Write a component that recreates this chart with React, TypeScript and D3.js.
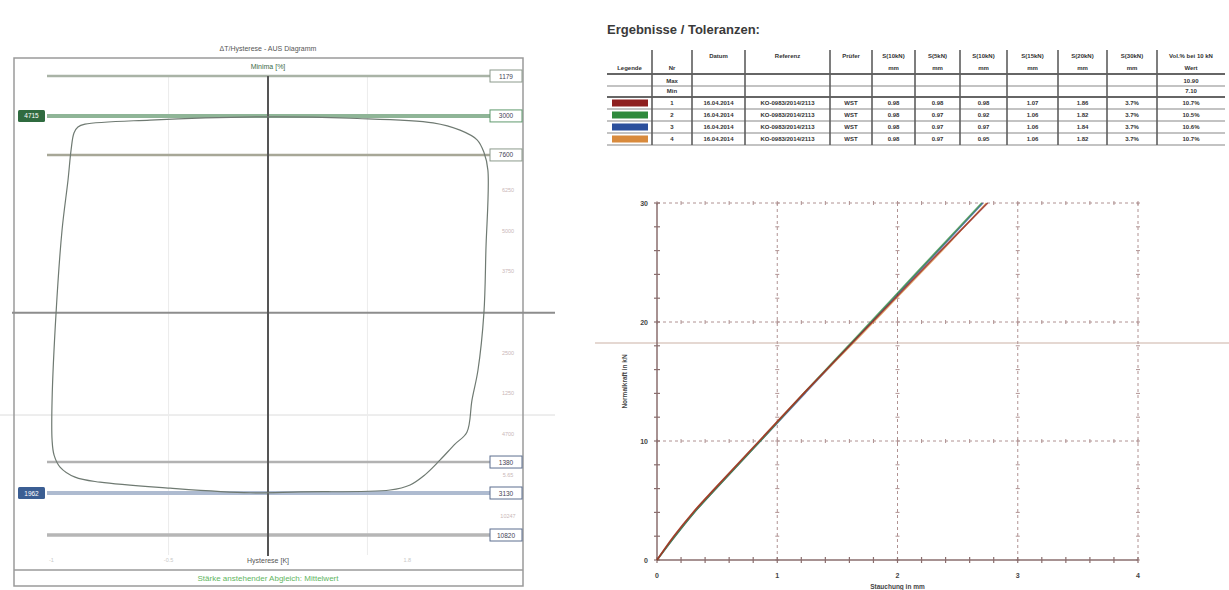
import React from 'react';
import * as d3 from 'd3';

// ---------- left panel: hysteresis loop ----------
const loopX = [-82.8, -53.4, 0, 37.1, 74.7, 86.9, 94.6, 97.7, 99.5, 98.6, 97.7, 95.0, 92.3, 90.0, 84.6, 77.8, 71.0, 64.3, 55.2, 14.5, -8.1, -44.3, -76.0, -87.3, -94.1, -96.8, -97.7, -97.7, -95.9, -93.2, -90.5, -89.1, -87.8, -86.0];
const loopY = [89.5, 90.4, 91.1, 90.8, 89.8, 88.2, 86.1, 83.4, 79.5, 62.1, 48.4, 35.9, 29.4, 22.4, 19.8, 16.3, 13.1, 10.9, 9.8, 9.4, 9.2, 10.2, 11.5, 12.6, 14.8, 17.4, 20.7, 29.4, 48.4, 66.4, 77.3, 83.9, 87.6, 88.9];

const levelValues = [100, 91.3, 82.8, 15.9, 9.15, 0];
const levelLabels = ['1179', '3000', '7600', '1380', '3130', '10820'];
const midLevel = 48.4;
const sideValues = [91.3, 9.15];
const sideLabels = ['4715', '1962'];
const faintValues = [75.2, 66.2, 57.5, 39.7, 30.9, 22.0, 13.1, 4.1];
const faintLabels = ['6250', '5000', '3750', '2500', '1250', '4700', '5.65', '10247'];
const gridX = [-45, 45];
const bottomTickX = [-98, -45, 63];
const bottomTickLabels = ['-1', '-0.5', '1.8'];

// ---------- right panel: table ----------
const headTop = ['', '', 'Datum', 'Referenz', 'Prüfer', 'S(10kN)', 'S(5kN)', 'S(10kN)', 'S(15kN)', 'S(20kN)', 'S(30kN)', 'Vol.% bei 10 kN'];
const headBottom = ['Legende', 'Nr', '', '', '', 'mm', 'mm', 'mm', 'mm', 'mm', 'mm', 'Wert'];
const limitNames = ['Max', 'Min'];
const limitValues = ['10.90', '7.10'];
const runNr = ['1', '2', '3', '4'];
const runDate = ['16.04.2014', '16.04.2014', '16.04.2014', '16.04.2014'];
const runRef = ['KO-0983/2014/2113', 'KO-0983/2014/2113', 'KO-0983/2014/2113', 'KO-0983/2014/2113'];
const runTester = ['WST', 'WST', 'WST', 'WST'];
const runValues = [
  ['0.98', '0.98', '0.98', '1.07', '1.86', '3.7%', '10.7%'],
  ['0.98', '0.97', '0.92', '1.06', '1.82', '3.7%', '10.5%'],
  ['0.98', '0.97', '0.97', '1.06', '1.84', '3.7%', '10.6%'],
  ['0.98', '0.97', '0.95', '1.06', '1.82', '3.7%', '10.7%'],
];

// ---------- right panel: force / stroke ----------
const force = [0, 2, 4, 6, 10, 14, 18, 22, 26, 30];
const strokeRed = [0, 0.14, 0.30, 0.48, 0.85, 1.22, 1.60, 1.98, 2.36, 2.75];
const strokeGreen = [0, 0.15, 0.31, 0.49, 0.86, 1.22, 1.59, 1.96, 2.33, 2.70];
const strokeBlue = [0, 0.15, 0.31, 0.49, 0.86, 1.23, 1.60, 1.97, 2.34, 2.71];
const strokeOrange = [0, 0.14, 0.30, 0.48, 0.85, 1.22, 1.61, 1.99, 2.37, 2.74];
const xTicks = [0, 1, 2, 3, 4];
const yTicks = [0, 10, 20, 30];

const runColors = ['#8e1f1f', '#2f8a3c', '#2b4f9c', '#d88a3c'];
const font = '"Liberation Sans", Arial, sans-serif';

function LeftPanel() {
  const x = d3.scaleLinear().domain([-100, 100]).range([47, 489]);
  const y = d3.scaleLinear().domain([0, 100]).range([535, 76]);
  const loop = d3.line<number>()
    .x((d, i) => x(loopX[i]))
    .y((d, i) => y(loopY[i]))
    .curve(d3.curveCatmullRomClosed);
  const lvlColors = ['#a9b3a6', '#8fb597', '#a7a797', '#b2b2b2', '#aebbd0', '#b6b6b6'];
  const lvlWidths = [2.5, 4, 2.5, 2.5, 4, 3.5];
  const boxStroke = ['#8c9a8c', '#5f9a6d', '#8c9a8c', '#5d6f8f', '#5d6f8f', '#5d6f8f'];
  const sideFill = ['#2f6b3f', '#3b5e93'];
  return (
    <g fontFamily={font}>
      <line x1={0} x2={555} y1={415} y2={415} stroke="#dcdcdc" strokeWidth={1} />
      <rect x={14} y={58} width={509} height={528} fill="none" stroke="#9a9a9a" strokeWidth={1.5} />
      <line x1={14} x2={523} y1={570} y2={570} stroke="#9a9a9a" strokeWidth={1.5} />
      <text x={268} y={51} textAnchor="middle" fontSize={7} fill="#555">ΔT/Hysterese - AUS Diagramm</text>
      {gridX.map(v => (
        <line key={v} x1={x(v)} x2={x(v)} y1={y(100)} y2={555} stroke="#ececec" strokeWidth={1} />
      ))}
      {levelValues.map((v, i) => (
        <line key={i} x1={47} x2={492} y1={y(v)} y2={y(v)} stroke={lvlColors[i]} strokeWidth={lvlWidths[i]} />
      ))}
      <line x1={12} x2={555} y1={y(midLevel)} y2={y(midLevel)} stroke="#8d8d8d" strokeWidth={2} />
      <line x1={x(0)} x2={x(0)} y1={y(100)} y2={556} stroke="#555" strokeWidth={2} />
      <path d={loop(loopX) || ''} fill="none" stroke="#6f7a72" strokeWidth={1.2} />
      {levelValues.map((v, i) => (
        <g key={i}>
          <rect x={490} y={y(v) - 6} width={32} height={12} fill="#fff" stroke={boxStroke[i]} strokeWidth={1} />
          <text x={506} y={y(v) + 2.5} textAnchor="middle" fontSize={6.5} fill="#445">{levelLabels[i]}</text>
        </g>
      ))}
      {sideValues.map((v, i) => (
        <g key={i}>
          <rect x={18} y={y(v) - 6} width={27} height={12} rx={1.5} fill={sideFill[i]} />
          <text x={31.5} y={y(v) + 2.5} textAnchor="middle" fontSize={6.5} fill="#fff">{sideLabels[i]}</text>
        </g>
      ))}
      {faintValues.map((v, i) => (
        <text key={i} x={508} y={y(v) + 2} textAnchor="middle" fontSize={5.5} fill="#c9b7b7">{faintLabels[i]}</text>
      ))}
      {bottomTickX.map((v, i) => (
        <text key={i} x={x(v)} y={562} textAnchor="middle" fontSize={5.5} fill="#c8c8c8">{bottomTickLabels[i]}</text>
      ))}
      <text x={268} y={69} textAnchor="middle" fontSize={7} fill="#3c6b48">Minima [%]</text>
      <text x={268} y={563} textAnchor="middle" fontSize={7} fill="#555">Hysterese [K]</text>
      <text x={268} y={581} textAnchor="middle" fontSize={8} fill="#5fb65f">Stärke anstehender Abgleich: Mittelwert</text>
    </g>
  );
}

function ResultTable() {
  const cols = [607, 652, 692, 745, 830, 872, 915, 960, 1007, 1058, 1107, 1157, 1225];
  const rowLines = [74, 86, 97, 109, 121, 133, 145];
  const thick = [74, 97];
  const cx = (i: number) => (cols[i] + cols[i + 1]) / 2;
  const runRowMid = [103, 115, 127, 139];
  return (
    <g fontFamily={font} fontSize={6} fill="#333" fontWeight="bold">
      <text x={607} y={34} fontSize={13} fontWeight="900" fill="#3a3a3a">Ergebnisse / Toleranzen:</text>
      {rowLines.map(r => (
        <line key={r} x1={607} x2={1225} y1={r} y2={r} stroke={thick.includes(r) ? '#666' : '#888'} strokeWidth={thick.includes(r) ? 2 : 1.2} />
      ))}
      {cols.slice(1, -1).map(c => (
        <line key={c} x1={c} x2={c} y1={50} y2={145} stroke="#5e5e5e" strokeWidth={1.6} />
      ))}
      {headTop.map((t, i) => (
        <text key={'a' + i} x={cx(i)} y={58} textAnchor="middle">{t}</text>
      ))}
      {headBottom.map((t, i) => (
        <text key={'b' + i} x={cx(i)} y={70} textAnchor="middle">{t}</text>
      ))}
      {limitNames.map((t, i) => (
        <g key={t}>
          <text x={cx(1)} y={83 + i * 10} textAnchor="middle">{t}</text>
          <text x={cx(11)} y={83 + i * 10} textAnchor="middle">{limitValues[i]}</text>
        </g>
      ))}
      {runNr.map((n, r) => (
        <g key={n}>
          <rect x={612} y={runRowMid[r] - 3.5} width={36} height={7} fill={runColors[r]} />
          <text x={cx(1)} y={runRowMid[r] + 2} textAnchor="middle">{n}</text>
          <text x={cx(2)} y={runRowMid[r] + 2} textAnchor="middle">{runDate[r]}</text>
          <text x={cx(3)} y={runRowMid[r] + 2} textAnchor="middle">{runRef[r]}</text>
          <text x={cx(4)} y={runRowMid[r] + 2} textAnchor="middle">{runTester[r]}</text>
          {runValues[r].map((v, j) => (
            <text key={j} x={cx(5 + j)} y={runRowMid[r] + 2} textAnchor="middle">{v}</text>
          ))}
        </g>
      ))}
    </g>
  );
}

function ForceChart() {
  const x = d3.scaleLinear().domain([0, 4]).range([657, 1138]);
  const y = d3.scaleLinear().domain([0, 30]).range([560, 203]);
  const series = [strokeBlue, strokeGreen, strokeOrange, strokeRed];
  const seriesColors = [runColors[2], runColors[1], runColors[3], runColors[0]];
  const makeLine = (s: number[]) => d3.line<number>()
    .x((d, i) => x(s[i]))
    .y(d => y(d))
    .curve(d3.curveCatmullRom)(force) || '';
  const minorX = d3.range(0, 4.001, 0.2);
  const minorY = d3.range(0, 30.001, 2);
  const gridColor = '#b09292';
  return (
    <g fontFamily={font}>
      <line x1={595} x2={1229} y1={343} y2={343} stroke="#dccbc3" strokeWidth={1.5} />
      {yTicks.slice(1).map(v => (
        <line key={'h' + v} x1={x(0)} x2={x(4)} y1={y(v)} y2={y(v)} stroke={gridColor} strokeWidth={1} strokeDasharray="3,3" />
      ))}
      {xTicks.slice(1).map(v => (
        <line key={'v' + v} x1={x(v)} x2={x(v)} y1={y(0)} y2={y(30)} stroke={gridColor} strokeWidth={1} strokeDasharray="3,3" />
      ))}
      {xTicks.slice(1).map(v => minorY.map(m => (
        <line key={'vt' + v + '-' + m} x1={x(v) - 2} x2={x(v) + 2} y1={y(m)} y2={y(m)} stroke={gridColor} strokeWidth={1} />
      )))}
      {yTicks.slice(1).map(v => minorX.map(m => (
        <line key={'ht' + v + '-' + m} x1={x(m)} x2={x(m)} y1={y(v) - 2} y2={y(v) + 2} stroke={gridColor} strokeWidth={1} />
      )))}
      <line x1={x(0)} x2={x(4)} y1={y(0)} y2={y(0)} stroke="#8a6e6e" strokeWidth={1.5} />
      <line x1={x(0)} x2={x(0)} y1={y(0)} y2={y(30)} stroke="#8a6e6e" strokeWidth={1.5} />
      {minorX.map(m => (
        <line key={'xm' + m} x1={x(m)} x2={x(m)} y1={y(0) - 3} y2={y(0) + 3} stroke="#8a6e6e" strokeWidth={1.2} />
      ))}
      {minorY.map(m => (
        <line key={'ym' + m} x1={x(0) - 3} x2={x(0) + 3} y1={y(m)} y2={y(m)} stroke="#8a6e6e" strokeWidth={1.2} />
      ))}
      {series.map((s, i) => (
        <path key={i} d={makeLine(s)} fill="none" stroke={seriesColors[i]} strokeWidth={1.6} strokeOpacity={0.75} />
      ))}
      {yTicks.map(v => (
        <text key={'yl' + v} x={648} y={y(v) + 2.5} textAnchor="end" fontSize={7} fontWeight="bold" fill="#444">{v}</text>
      ))}
      {xTicks.map(v => (
        <text key={'xl' + v} x={x(v)} y={578} textAnchor="middle" fontSize={7} fontWeight="bold" fill="#444">{v}</text>
      ))}
      <text x={x(2)} y={589} textAnchor="middle" fontSize={6.5} fontWeight="bold" fill="#444">Stauchung in mm</text>
      <text transform={`translate(627,${y(15)}) rotate(-90)`} textAnchor="middle" fontSize={6.5} fontWeight="bold" fill="#444">Normalkraft in kN</text>
    </g>
  );
}

export default function App() {
  return (
    <svg width={1229} height={590} style={{ position: 'absolute', left: 0, top: 0, background: '#fff' }}>
      <rect width={1229} height={590} fill="#fff" />
      <LeftPanel />
      <ResultTable />
      <ForceChart />
    </svg>
  );
}
